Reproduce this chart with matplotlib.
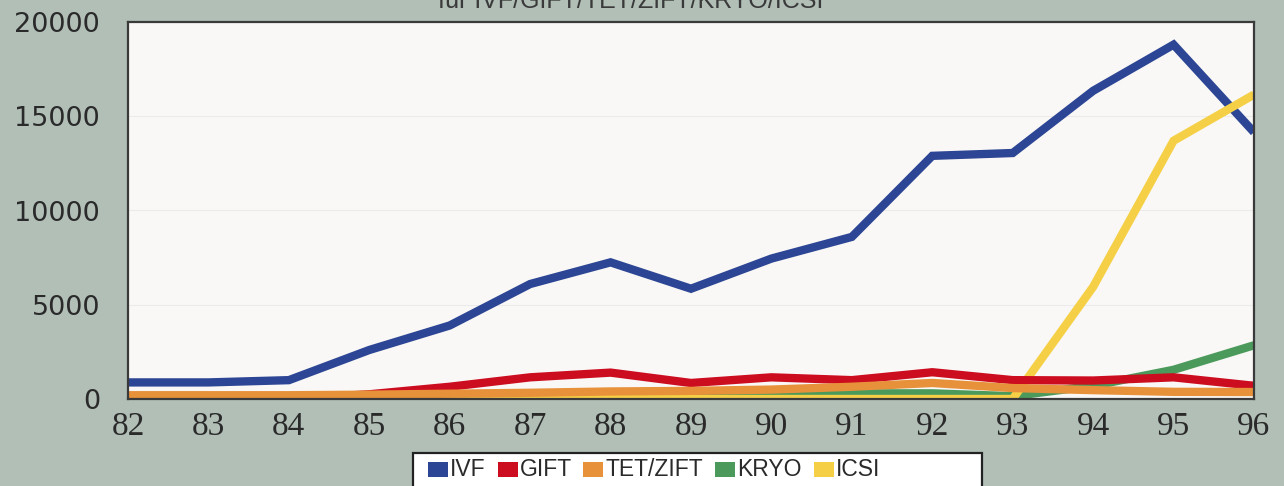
import matplotlib.pyplot as plt
from matplotlib.patches import Rectangle

years = ["82", "83", "84", "85", "86", "87", "88", "89", "90", "91", "92", "93", "94", "95", "96"]

ivf = [880, 880, 1000, 2600, 3900, 6100, 7250, 5850, 7450, 8600, 12900, 13050, 16350, 18800, 14150]
gift = [0, 0, 0, 250, 650, 1150, 1400, 850, 1150, 1000, 1420, 1000, 980, 1150, 700]
tet_zift = [200, 200, 200, 230, 280, 330, 400, 430, 500, 650, 850, 580, 470, 380, 370]
kryo = [0, 0, 0, 0, 0, 0, 50, 100, 200, 300, 300, 150, 700, 1550, 2850]
icsi = [0, 0, 0, 0, 0, 0, 0, 0, 0, 0, 0, 0, 5950, 13700, 16150]

# name, values, colour, zorder
series = [
    ("IVF", ivf, "#2c4594", 1.9),
    ("GIFT", gift, "#cc0c1f", 2.1),
    ("TET/ZIFT", tet_zift, "#e8913b", 2.2),
    ("KRYO", kryo, "#4c9a5b", 2.0),
    ("ICSI", icsi, "#f5d046", 2.05),
]

bg = "#b1bfb7"
txt = "#2a2a2a"

fig = plt.figure(figsize=(12.84, 4.86), dpi=100, facecolor=bg)
ax = fig.add_axes([128 / 1284, 87 / 486, 1126 / 1284, 377 / 486])
ax.set_facecolor("#f9f8f6")

x = list(range(len(years)))
for name, vals, col, z in series:
    ax.plot(x, vals, color=col, lw=6, zorder=z, solid_joinstyle="miter",
            solid_capstyle="butt")

ax.set_xlim(0, len(years) - 1)
ax.set_ylim(0, 20000)
ax.set_yticks([0, 5000, 10000, 15000, 20000])
ax.set_yticklabels(["0", "5000", "10000", "15000", "20000"],
                   family="DejaVu Sans", fontsize=19.5, color=txt)
ax.set_xticks(x)
ax.set_xticklabels(years, family="Liberation Serif", fontsize=24, color=txt)
ax.tick_params(axis="y", length=0, pad=20)
ax.tick_params(axis="x", length=0, pad=9)
ax.grid(axis="y", color="#ebebeb", lw=0.8, zorder=0)
ax.set_axisbelow(True)
for s in ax.spines.values():
    s.set_color("#3a3a3a")
    s.set_linewidth(1.6)
    s.set_zorder(5)

# title, mostly cut off at the top edge
fig.text(0.491, (486 - 8) / 486, "für IVF/GIFT/TET/ZIFT/KRYO/ICSI",
         family="Liberation Sans", fontsize=18, color="#3a3a3a",
         ha="center", va="baseline")

# legend box running off the bottom
fig.patches.append(Rectangle((413 / 1284, -20 / 486), 569 / 1284, 53 / 486,
                             transform=fig.transFigure, facecolor="white",
                             edgecolor="#222222", lw=1.6, zorder=1))
key_x = [428, 498, 583, 715, 814]
for kx, (name, _, col, _) in zip(key_x, series):
    fig.patches.append(Rectangle((kx / 1284, (486 - 477) / 486), 20 / 1284, 15 / 486,
                                 transform=fig.transFigure, facecolor=col,
                                 edgecolor="none", zorder=2))
    fig.text((kx + 22) / 1284, (486 - 469.5) / 486, name,
             family="Liberation Sans", fontsize=16.5,
             color=txt, ha="left", va="center", zorder=3)

fig.savefig("out.png", dpi=100, facecolor=bg)
